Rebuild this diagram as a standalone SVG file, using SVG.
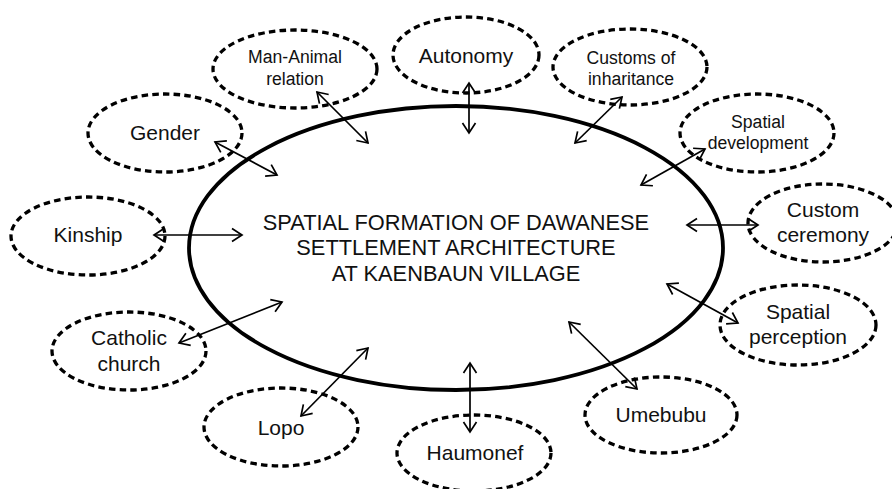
<svg xmlns="http://www.w3.org/2000/svg" width="892" height="489" viewBox="0 0 892 489">
  <style>
    .bg { fill: #ffffff; }
    .core { fill: none; stroke: #000; stroke-width: 3.8; }
    .factor { fill: none; stroke: #000; stroke-width: 3.3; stroke-dasharray: 6.5 4.2; }
    .lbl { font-family: "Liberation Sans", Arial, sans-serif; fill: #111; text-anchor: middle; }
    .title { font-size: 21.8px; }
    .big { font-size: 21px; }
    .small { font-size: 17.6px; }
    .link { fill: none; stroke: #000; stroke-width: 1.7; marker-start: url(#tip); marker-end: url(#tip); }
  </style>
  <defs>
    <marker id="tip" markerUnits="userSpaceOnUse" markerWidth="14" markerHeight="16" refX="11" refY="7" orient="auto-start-reverse" overflow="visible">
      <path d="M1,0.5 L11,7 L1,13.5" fill="none" stroke="#000" stroke-width="1.7"/>
    </marker>
  </defs>
  <rect class="bg" x="0" y="0" width="892" height="489"/>

  <!-- central theme -->
  <g id="core">
    <ellipse class="core" cx="456" cy="248" rx="267" ry="142"/>
    <text class="lbl title" x="456" y="230">SPATIAL FORMATION OF DAWANESE</text>
    <text class="lbl title" x="456" y="255">SETTLEMENT ARCHITECTURE</text>
    <text class="lbl title" x="456" y="281">AT KAENBAUN VILLAGE</text>
  </g>

  <!-- surrounding factors -->
  <g id="man-animal">
    <ellipse class="factor" cx="295" cy="69" rx="82" ry="39"/>
    <text class="lbl small" x="295" y="63">Man-Animal</text>
    <text class="lbl small" x="295" y="85">relation</text>
  </g>
  <g id="autonomy">
    <ellipse class="factor" cx="466" cy="55" rx="73" ry="38"/>
    <text class="lbl big" x="466" y="63">Autonomy</text>
  </g>
  <g id="customs-inheritance">
    <ellipse class="factor" cx="630" cy="67" rx="77" ry="38"/>
    <text class="lbl small" x="631" y="64">Customs of</text>
    <text class="lbl small" x="631" y="85">inharitance</text>
  </g>
  <g id="spatial-development">
    <ellipse class="factor" cx="757" cy="133" rx="77" ry="39"/>
    <text class="lbl small" x="758" y="128">Spatial</text>
    <text class="lbl small" x="758" y="149">development</text>
  </g>
  <g id="custom-ceremony">
    <ellipse class="factor" cx="823" cy="223" rx="75" ry="39"/>
    <text class="lbl big" x="823" y="217">Custom</text>
    <text class="lbl big" x="823" y="242">ceremony</text>
  </g>
  <g id="spatial-perception">
    <ellipse class="factor" cx="798" cy="325" rx="78" ry="40"/>
    <text class="lbl big" x="798" y="319">Spatial</text>
    <text class="lbl big" x="798" y="344">perception</text>
  </g>
  <g id="umebubu">
    <ellipse class="factor" cx="661" cy="415" rx="76" ry="38"/>
    <text class="lbl big" x="661" y="422">Umebubu</text>
  </g>
  <g id="haumonef">
    <ellipse class="factor" cx="474" cy="453" rx="77" ry="38"/>
    <text class="lbl big" x="475" y="460">Haumonef</text>
  </g>
  <g id="lopo">
    <ellipse class="factor" cx="281" cy="427" rx="77" ry="39"/>
    <text class="lbl big" x="281" y="435">Lopo</text>
  </g>
  <g id="catholic-church">
    <ellipse class="factor" cx="129" cy="351" rx="77" ry="39"/>
    <text class="lbl big" x="129" y="345">Catholic</text>
    <text class="lbl big" x="129" y="371">church</text>
  </g>
  <g id="kinship">
    <ellipse class="factor" cx="88" cy="236" rx="77" ry="39"/>
    <text class="lbl big" x="88" y="242">Kinship</text>
  </g>
  <g id="gender">
    <ellipse class="factor" cx="165" cy="133" rx="77" ry="39"/>
    <text class="lbl big" x="165" y="140">Gender</text>
  </g>

  <!-- two-way links between the theme and each factor -->
  <g id="connectors">
    <line class="link" x1="317" y1="92" x2="368" y2="143"/>
    <line class="link" x1="469" y1="83" x2="469" y2="133"/>
    <line class="link" x1="622" y1="97" x2="575" y2="143"/>
    <line class="link" x1="705" y1="149" x2="641" y2="185"/>
    <line class="link" x1="687" y1="225" x2="758" y2="225"/>
    <line class="link" x1="667" y1="284" x2="738" y2="323"/>
    <line class="link" x1="569" y1="322" x2="637" y2="389"/>
    <line class="link" x1="470" y1="363" x2="470" y2="432"/>
    <line class="link" x1="368" y1="348" x2="301" y2="416"/>
    <line class="link" x1="282" y1="302" x2="179" y2="343"/>
    <line class="link" x1="154" y1="235" x2="242" y2="235"/>
    <line class="link" x1="215" y1="142" x2="277" y2="175"/>
  </g>
</svg>
